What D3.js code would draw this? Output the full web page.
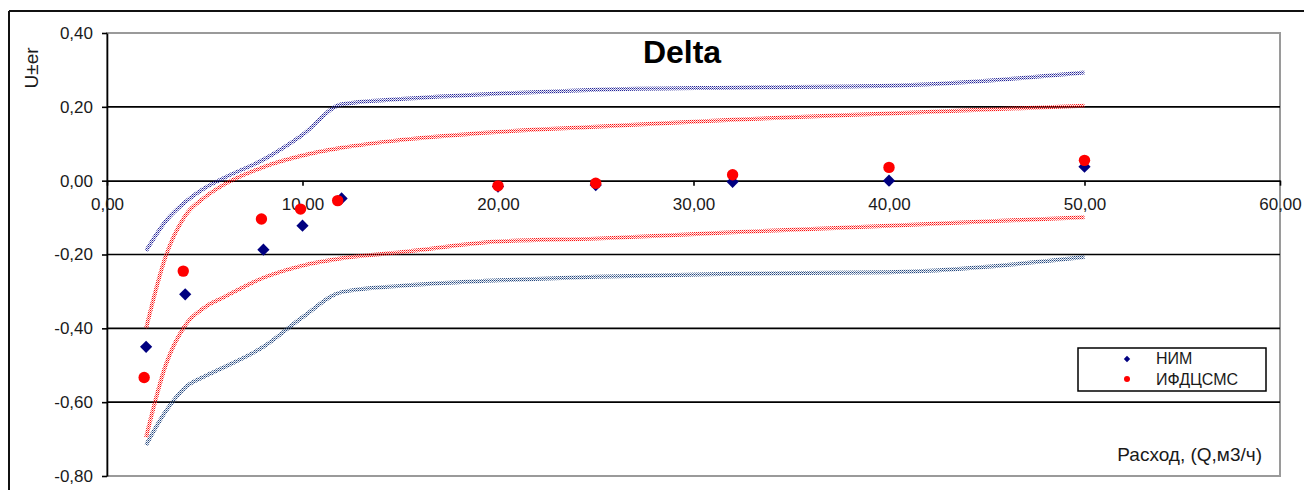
<!DOCTYPE html>
<html>
<head>
<meta charset="utf-8">
<script src="https://cdn.jsdelivr.net/npm/d3@7"></script>
<style>
  html, body { margin: 0; padding: 0; background: #fff; }
  svg { display: block; font-family: "Liberation Sans", Arial, sans-serif; }
</style>
</head>
<body>
<div id="chart"></div>
<script>
// ---------- data ----------
const chartTitle = "Delta";
const xTitle = "Расход, (Q,м3/ч)";
const yTitle = "U±er";
const seriesNames = ["НИМ", "ИФДЦСМС"];

const xTicks = [0, 10, 20, 30, 40, 50, 60];
const yTicks = [-0.8, -0.6, -0.4, -0.2, 0, 0.2, 0.4];
const gridValues = [-0.6, -0.4, -0.2, 0.2];

// measured points
const nimQ = [2, 4, 8, 10, 12, 20, 25, 32, 40, 50];
const nimU = [-0.450, -0.308, -0.187, -0.122, -0.048, -0.016, -0.012, -0.003, 0.000, 0.038];
const ifdQ = [1.9, 3.9, 7.9, 9.9, 11.8, 20, 25, 32, 40, 50];
const ifdU = [-0.533, -0.245, -0.104, -0.077, -0.054, -0.014, -0.007, 0.016, 0.036, 0.055];

// uncertainty band curves
const bandQ = [2, 3, 4, 5, 6, 8, 10, 12, 15, 20, 25, 32, 40, 50];
const blueUpper = [-0.190, -0.110, -0.058, -0.020, 0.008, 0.057, 0.124, 0.207, 0.221, 0.236, 0.246, 0.252, 0.257, 0.293];
const blueLower = [-0.716, -0.625, -0.560, -0.530, -0.505, -0.450, -0.370, -0.302, -0.285, -0.270, -0.260, -0.252, -0.248, -0.207];
const redUpper  = [-0.400, -0.205, -0.095, -0.045, -0.010, 0.037, 0.068, 0.089, 0.110, 0.132, 0.146, 0.165, 0.182, 0.203];
const redLower  = [-0.695, -0.500, -0.392, -0.343, -0.315, -0.263, -0.230, -0.210, -0.194, -0.165, -0.157, -0.140, -0.122, -0.099];

// ---------- layout ----------
const W = 1304, H = 490;
const svg = d3.select("#chart").append("svg").attr("width", W).attr("height", H);

const x = d3.scaleLinear().domain([0, 60]).range([107, 1280]);
const y = d3.scaleLinear().domain([-0.8, 0.4]).range([476, 33]);

const loc = d3.formatLocale({decimal: ",", thousands: " ", grouping: [3], currency: ["", ""], minus: "-"});
const fmt = loc.format(".2f");

// patterns for dotted band lines
const defs = svg.append("defs");
function makePattern(id, color) {
  const p = defs.append("pattern").attr("id", id)
    .attr("patternUnits", "userSpaceOnUse").attr("width", 2).attr("height", 2);
  p.append("rect").attr("x", 0).attr("y", 0).attr("width", 1).attr("height", 1).attr("fill", color);
  p.append("rect").attr("x", 1).attr("y", 1).attr("width", 1).attr("height", 1).attr("fill", color).attr("opacity", 0.6);
  p.append("rect").attr("x", 1).attr("y", 0).attr("width", 1).attr("height", 1).attr("fill", color).attr("opacity", 0.12);
}
makePattern("pBlueU", "#23239a");
makePattern("pBlueL", "#22467e");
makePattern("pRed", "#ff0d0d");

// outer chart frame (partially visible)
svg.append("line").attr("x1", 9).attr("x2", W).attr("y1", 11).attr("y2", 11)
  .attr("stroke", "#111").attr("stroke-width", 2);
svg.append("line").attr("x1", 9).attr("x2", 9).attr("y1", 11).attr("y2", H)
  .attr("stroke", "#111").attr("stroke-width", 2);

// plot-area border
svg.append("rect").attr("x", x(0)).attr("y", y(0.4))
  .attr("width", x(60) - x(0)).attr("height", y(-0.8) - y(0.4))
  .attr("fill", "none").attr("stroke", "#9a9a9a").attr("stroke-width", 2);

// gridlines
svg.append("g").selectAll("line").data(gridValues).join("line")
  .attr("x1", x(0)).attr("x2", x(60))
  .attr("y1", d => y(d)).attr("y2", d => y(d))
  .attr("stroke", "#000").attr("stroke-width", 1.6);

// axes
const yAxis = svg.append("g").attr("transform", `translate(${x(0)},0)`)
  .call(d3.axisLeft(y).tickValues(yTicks).tickFormat(fmt).tickSize(5).tickSizeOuter(0).tickPadding(9));
const xAxis = svg.append("g").attr("transform", `translate(0,${y(0)})`)
  .call(d3.axisBottom(x).tickValues(xTicks).tickFormat(fmt).tickSize(5).tickSizeOuter(0).tickPadding(12));
[yAxis, xAxis].forEach(g => {
  g.select(".domain").attr("stroke", "#000").attr("stroke-width", 1.6);
  g.selectAll(".tick line").attr("stroke", "#000").attr("stroke-width", 1.6);
  g.selectAll("text").attr("fill", "#1a1a1a").style("font-size", "17px")
    .style("font-family", "'Liberation Sans', Arial, sans-serif");
});

// band curves
const line = d3.line().x(d => x(d[0])).y(d => y(d[1])).curve(d3.curveMonotoneX);
const bands = [
  {vals: blueUpper, pat: "pBlueU"},
  {vals: blueLower, pat: "pBlueL"},
  {vals: redUpper, pat: "pRed"},
  {vals: redLower, pat: "pRed"}
];
svg.append("g").selectAll("path").data(bands).join("path")
  .attr("d", b => line(bandQ.map((q, i) => [q, b.vals[i]])))
  .attr("fill", "none")
  .attr("stroke", b => `url(#${b.pat})`)
  .attr("stroke-width", 4);

// НИМ diamonds
const diamond = d3.symbol().type(d3.symbolDiamond2).size(95);
svg.append("g").selectAll("path").data(nimQ.map((q, i) => [q, nimU[i]])).join("path")
  .attr("transform", d => `translate(${x(d[0])},${y(d[1])})`)
  .attr("d", diamond).attr("fill", "#000080");

// ИФДЦСМС circles
svg.append("g").selectAll("circle").data(ifdQ.map((q, i) => [q, ifdU[i]])).join("circle")
  .attr("cx", d => x(d[0])).attr("cy", d => y(d[1])).attr("r", 5.7)
  .attr("fill", "#ff0000");

// title
svg.append("text").attr("x", 682).attr("y", 63).attr("text-anchor", "middle")
  .style("font-size", "32px").style("font-weight", "bold").attr("fill", "#000")
  .text(chartTitle);

// axis titles
svg.append("text").attr("transform", "translate(38,68) rotate(-90)")
  .attr("text-anchor", "middle").style("font-size", "19px").attr("fill", "#1a1a1a")
  .text(yTitle);
svg.append("text").attr("x", 1262).attr("y", 461).attr("text-anchor", "end")
  .style("font-size", "19px").attr("fill", "#1a1a1a").text(xTitle);

// legend
const lg = svg.append("g");
lg.append("rect").attr("x", 1078).attr("y", 348).attr("width", 188).attr("height", 43)
  .attr("fill", "#fff").attr("stroke", "#000").attr("stroke-width", 1.5);
lg.append("path").attr("transform", "translate(1127,359)")
  .attr("d", d3.symbol().type(d3.symbolDiamond2).size(26)).attr("fill", "#000080");
lg.append("circle").attr("cx", 1127).attr("cy", 379).attr("r", 3).attr("fill", "#ff0000");
lg.selectAll("text").data(seriesNames).join("text")
  .attr("x", 1156).attr("y", (d, i) => 364 + i * 21)
  .style("font-size", "16px").attr("fill", "#1a1a1a").text(d => d);
</script>
</body>
</html>
